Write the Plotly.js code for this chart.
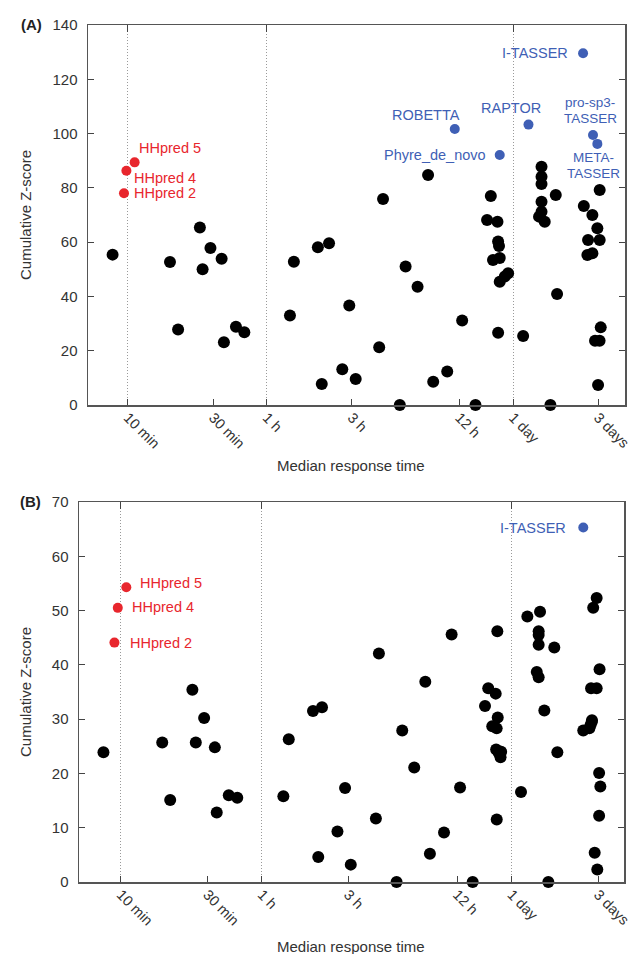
<!DOCTYPE html>
<html>
<head>
<meta charset="utf-8">
<script src="https://cdn.plot.ly/plotly-3.0.1.min.js"></script>
<style>html,body{margin:0;padding:0;background:#fff}#chart{width:631px;height:954px}</style>
</head>
<body>
<div id="chart"></div>
<script>
// ---------- tick definitions (minutes) ----------
const tickVals = [10, 30, 60, 180, 720, 1440, 4320];
const tickText = ['10 min', '30 min', '1 h', '3 h', '12 h', '1 day', '3 days'];
const guideVals = [10, 60, 1440];

// ---------- Panel A ----------
const aBlackX = [8.2, 17.2, 19.1, 25.3, 29.0, 26.2, 33.5, 34.5, 40.3, 44.9,
  80.9, 85.1, 116, 134, 122, 159, 174, 189, 256, 269,
  334, 360, 420, 481, 514, 616, 747, 887, 1081, 1030,
  1178, 1188, 1202, 1112, 1213, 1213, 1295, 1352, 1188, 1641,
  2080, 2080, 2080, 2080, 2080, 2014, 2168, 2500, 2333, 2543,
  3590, 4010, 4406, 4276, 3793, 4406, 3760, 4010, 4467, 4150,
  4400, 4315];
const aBlackY = [55.4, 52.7, 27.8, 65.4, 57.8, 50.0, 53.9, 23.1, 28.8, 26.8,
  33.0, 52.8, 58.1, 59.6, 7.7, 13.2, 36.7, 9.6, 21.3, 75.9,
  0, 51.0, 43.6, 84.7, 8.6, 12.3, 31.1, 0, 77.0, 68.2,
  67.5, 60.2, 58.6, 53.4, 54.2, 45.4, 47.3, 48.5, 26.6, 25.4,
  87.8, 84.1, 81.4, 74.9, 71.2, 69.4, 67.5, 77.4, 0, 40.9,
  73.3, 70.0, 79.2, 65.1, 60.8, 60.8, 55.3, 55.9, 28.6, 23.7,
  23.7, 7.4];
const aRedX = [10.9, 9.8, 9.5];
const aRedY = [89.4, 86.3, 78.0];
const aRedLabels = ['HHpred 5', 'HHpred 4', 'HHpred 2'];
const aBlueX = [3556, 679, 1758, 1213, 4043, 4276];
const aBlueY = [129.6, 101.7, 103.3, 92.1, 99.5, 96.2];
const aBlueLabels = ['I-TASSER', 'ROBETTA', 'RAPTOR', 'Phyre_de_novo', 'pro-sp3-\nTASSER', 'META-\nTASSER'];

// ---------- Panel B ----------
const bBlackX = [8.0, 16.9, 18.7, 24.8, 28.8, 25.9, 33.0, 33.8, 39.4, 43.9,
  78.9, 84.5, 115, 129, 123, 157, 173, 186, 256, 266,
  333, 358, 417, 480, 509, 609, 671, 747, 877, 1026,
  1069, 1175, 1200, 1206, 1125, 1190, 1182, 1220, 1260, 1250,
  1191, 1622, 1758, 2066, 2030, 2030, 2030, 1982, 2030, 2182,
  2477, 2575, 2296, 4246, 4063, 4406, 3954, 4246, 4000, 3580,
  3870, 3990, 3930, 4380, 4450, 4380, 4140, 4280];
const bBlackY = [23.9, 25.7, 15.1, 35.4, 30.2, 25.7, 24.8, 12.8, 16.0, 15.5,
  15.8, 26.3, 31.5, 32.2, 4.6, 9.3, 17.3, 3.2, 11.7, 42.1,
  0, 27.9, 21.1, 36.9, 5.2, 9.1, 45.6, 17.4, 0, 32.4,
  35.7, 34.7, 46.2, 30.3, 28.7, 28.3, 24.4, 23.8, 24.0, 23.0,
  11.5, 16.6, 48.9, 49.8, 46.2, 45.5, 43.7, 38.7, 37.7, 31.6,
  43.2, 23.9, 0, 52.3, 50.5, 39.2, 35.7, 35.7, 29.8, 27.9,
  28.3, 29.5, 28.9, 20.1, 17.6, 12.2, 5.4, 2.3];
const bRedX = [10.7, 9.6, 9.2];
const bRedY = [54.3, 50.5, 44.1];
const bRedLabels = ['HHpred 5', 'HHpred 4', 'HHpred 2'];
const bBlueX = [3581];
const bBlueY = [65.3];
const bBlueLabels = ['I-TASSER'];

// ---------- label placement (style only: anchor, pixel shifts, line pitch) ----------
const aRedPlace = [{a:'left',dx:2,dy:14},{a:'left',dx:6,dy:-7},{a:'left',dx:8,dy:0}];
const aBluePlace = [{a:'right',dx:-13,dy:0},{a:'center',dx:-29,dy:14},{a:'center',dx:-17,dy:17},
  {a:'right',dx:-12,dy:0},{a:'center',dx:-3,dy:32,lh:15.5,fs:13.5},{a:'center',dx:-4,dy:-14,lh:15.5,fs:13.5}];
const bRedPlace = [{a:'left',dx:12,dy:4},{a:'left',dx:12,dy:1},{a:'left',dx:14,dy:0}];
const bBluePlace = [{a:'right',dx:-15,dy:0}];

const RED = '#e8262d', BLUE = '#3f5fb5';
const FONT = 'Liberation Sans, Arial, Helvetica, sans-serif';
const W = 631, H = 954;

function labelAnns(xs, ys, labels, place, color, xref, yref) {
  const out = [];
  labels.forEach((lab, i) => {
    const lines = lab.split('\n');
    const p = place[i];
    lines.forEach((ln, k) => {
      out.push({
        x: Math.log10(xs[i]), y: ys[i], xref: xref, yref: yref,
        text: ln, showarrow: false, xanchor: p.a, yanchor: 'middle',
        xshift: p.dx, yshift: p.dy - k * (p.lh || 0),
        font: {family: FONT, size: p.fs || 14.5, color: color}
      });
    });
  });
  return out;
}

function pts(x, y, color, size, xa, ya) {
  return {x: x, y: y, type: 'scatter', mode: 'markers', xaxis: xa, yaxis: ya,
    cliponaxis: false, hoverinfo: 'x+y', showlegend: false,
    marker: {color: color, size: size, line: {width: 0}}};
}

const traces = [
  pts(aBlackX, aBlackY, '#000', 12, 'x', 'y'),
  pts(aRedX, aRedY, RED, 10, 'x', 'y'),
  pts(aBlueX, aBlueY, BLUE, 10, 'x', 'y'),
  pts(bBlackX, bBlackY, '#000', 12, 'x2', 'y2'),
  pts(bRedX, bRedY, RED, 10, 'x2', 'y2'),
  pts(bBlueX, bBlueY, BLUE, 10, 'x2', 'y2'),
  {x: [], y: [], type: 'scatter', xaxis: 'x3', yaxis: 'y', showlegend: false},
  {x: [], y: [], type: 'scatter', xaxis: 'x4', yaxis: 'y2', showlegend: false}
];

const tickFont = {family: FONT, size: 14.5, color: '#333'};
function xMain(dom, anchor, range) {
  return {domain: dom, anchor: anchor, type: 'log', range: range,
    tickmode: 'array', tickvals: tickVals, ticktext: tickText, tickangle: 45,
    ticks: 'inside', ticklen: 6, tickwidth: 1, tickcolor: '#444',
    showline: true, linecolor: '#555', linewidth: 1.5, mirror: true,
    showgrid: false, zeroline: false, tickfont: tickFont, ticklabelstandoff: -3,
    ticklabeloverflow: 'allow'};
}
function xGuide(over, anchor, range) {
  return {overlaying: over, anchor: anchor, side: 'top', type: 'log', range: range,
    tickmode: 'array', tickvals: guideVals, ticks: 'inside', ticklen: 7, tickcolor: '#444',
    showticklabels: false, showline: false, zeroline: false,
    showgrid: true, gridcolor: '#9a9a9a', griddash: '1px,2px', gridwidth: 1};
}
function yMain(dom, anchor, range, dtick) {
  return {domain: dom, anchor: anchor, range: range, dtick: dtick, tick0: 0,
    ticks: 'inside', ticklen: 6, tickwidth: 1, tickcolor: '#444',
    showline: true, linecolor: '#555', linewidth: 1.5, mirror: 'ticks',
    showgrid: false, zeroline: false, tickfont: {family: FONT, size: 15, color: '#333'},
    ticklabelstandoff: 6};
}

const rangeA = [0.776, 3.786], rangeB = [0.768, 3.779];

const annotations = [].concat(
  labelAnns(aRedX, aRedY, aRedLabels, aRedPlace, RED, 'x', 'y'),
  labelAnns(aBlueX, aBlueY, aBlueLabels, aBluePlace, BLUE, 'x', 'y'),
  labelAnns(bRedX, bRedY, bRedLabels, bRedPlace, RED, 'x2', 'y2'),
  labelAnns(bBlueX, bBlueY, bBlueLabels, bBluePlace, BLUE, 'x2', 'y2'),
  [
    {xref:'paper', yref:'paper', x: 19/W, y: 1 - 25/H, xanchor:'left', yanchor:'middle', showarrow:false,
     text:'<b>(A)</b>', font:{family: FONT, size: 15, color:'#222'}},
    {xref:'paper', yref:'paper', x: 18/W, y: 1 - 501/H, xanchor:'left', yanchor:'middle', showarrow:false,
     text:'<b>(B)</b>', font:{family: FONT, size: 15, color:'#222'}},
    {xref:'paper', yref:'paper', x: 25/W, y: 1 - 215/H, xanchor:'center', yanchor:'middle', showarrow:false,
     textangle:-90, text:'Cumulative Z-score', font:{family: FONT, size: 15, color:'#333'}},
    {xref:'paper', yref:'paper', x: 25/W, y: 1 - 692/H, xanchor:'center', yanchor:'middle', showarrow:false,
     textangle:-90, text:'Cumulative Z-score', font:{family: FONT, size: 15, color:'#333'}},
    {xref:'paper', yref:'paper', x: 351/W, y: 1 - 466/H, xanchor:'center', yanchor:'middle', showarrow:false,
     text:'Median response time', font:{family: FONT, size: 15, color:'#333'}},
    {xref:'paper', yref:'paper', x: 351/W, y: 1 - 946/H, xanchor:'center', yanchor:'middle', showarrow:false,
     text:'Median response time', font:{family: FONT, size: 15, color:'#333'}}
  ]
);

const layout = {
  width: W, height: H,
  margin: {l: 0, r: 0, t: 0, b: 0},
  paper_bgcolor: '#fff', plot_bgcolor: '#fff',
  showlegend: false,
  font: {family: FONT},
  xaxis: xMain([88/W, 625/W], 'y', rangeA),
  yaxis: yMain([1 - 405/H, 1 - 25/H], 'x', [0, 140], 20),
  xaxis2: xMain([79/W, 624/W], 'y2', rangeB),
  yaxis2: yMain([1 - 882/H, 1 - 502/H], 'x2', [0, 70], 10),
  xaxis3: xGuide('x', 'y', rangeA),
  xaxis4: xGuide('x2', 'y2', rangeB),
  annotations: annotations
};

Plotly.newPlot('chart', traces, layout, {displayModeBar: false, staticPlot: true});
</script>
</body>
</html>
